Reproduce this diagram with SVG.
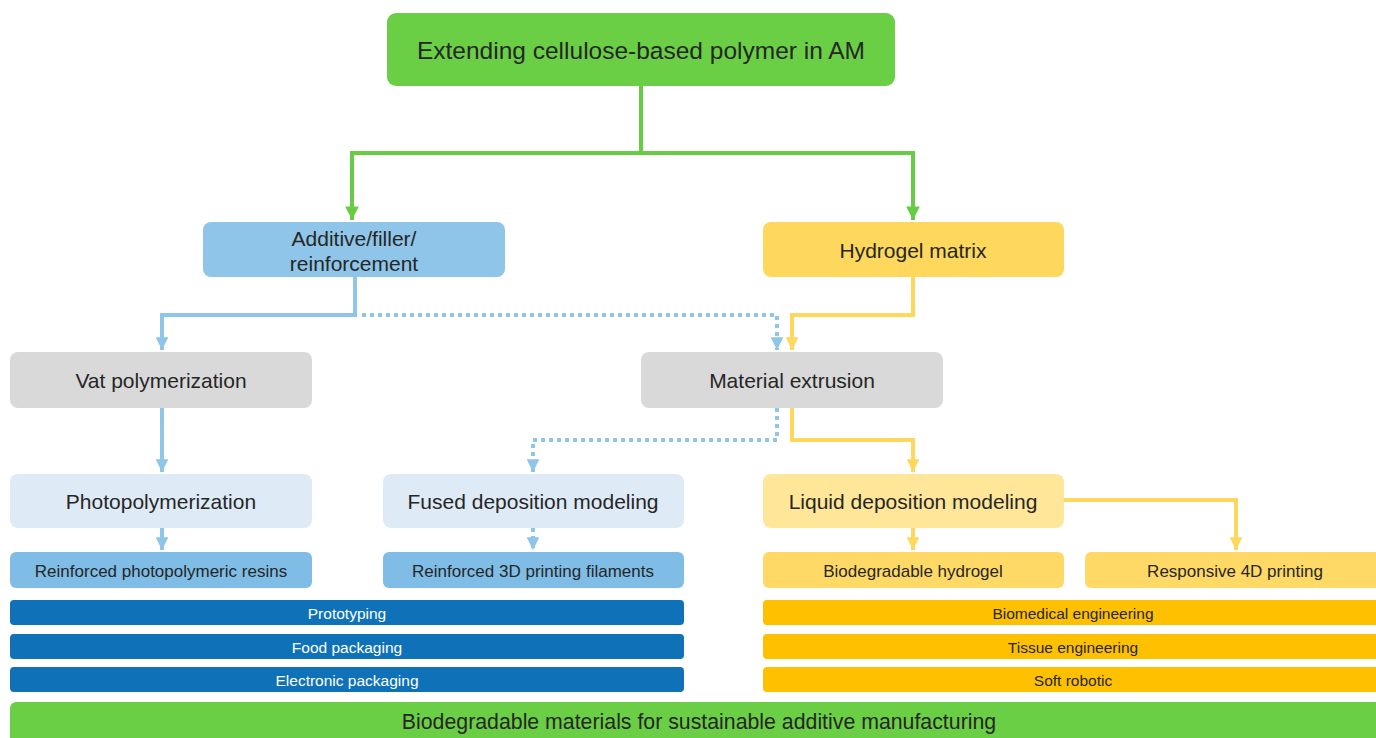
<svg xmlns="http://www.w3.org/2000/svg" width="1376" height="738" viewBox="0 0 1376 738">
<style>
text{font-family:"Liberation Sans","Open Sans",sans-serif;fill:#262626;text-anchor:middle;dominant-baseline:central}
.l{font-size:21px}.s{font-size:17px}.b{font-size:15.5px}
.w{fill:#ffffff}
.g{fill:none;stroke:#66cc44;stroke-width:4}
.bl{fill:none;stroke:#8ec5e8;stroke-width:4}
.bd{fill:none;stroke:#8ec5e8;stroke-width:4;stroke-dasharray:4 4}
.y{fill:none;stroke:#fdd85c;stroke-width:4}
</style>
<defs>
<marker id="ag" viewBox="0 0 10 10" refX="10" refY="5" markerWidth="3.4" markerHeight="3.4" orient="auto" markerUnits="strokeWidth"><path d="M0,0L10,5L0,10Z" fill="#66cc44"/></marker>
<marker id="ab" viewBox="0 0 10 10" refX="10" refY="5" markerWidth="3.2" markerHeight="3.2" orient="auto" markerUnits="strokeWidth"><path d="M0,0L10,5L0,10Z" fill="#8ec5e8"/></marker>
<marker id="ay" viewBox="0 0 10 10" refX="10" refY="5" markerWidth="3.2" markerHeight="3.2" orient="auto" markerUnits="strokeWidth"><path d="M0,0L10,5L0,10Z" fill="#fdd85c"/></marker>
</defs>
<rect width="1376" height="738" fill="#ffffff"/>
<g id="connectors">
<path class="g" d="M641,86V153H352V220" marker-end="url(#ag)"/>
<path class="g" d="M641,153H913V220" marker-end="url(#ag)"/>
<path class="bl" d="M355,277V315H162V350" marker-end="url(#ab)"/>
<path class="bd" d="M362,315H777V350" marker-end="url(#ab)"/>
<path class="y" d="M913,277V315H792V350" marker-end="url(#ay)"/>
<path class="bl" d="M162,408V472" marker-end="url(#ab)"/>
<path class="bd" d="M777,408V440H533V472" marker-end="url(#ab)"/>
<path class="y" d="M792,408V440H913V472" marker-end="url(#ay)"/>
<path class="bl" d="M162,528V550" marker-end="url(#ab)"/>
<path class="bd" d="M533,528V550" marker-end="url(#ab)"/>
<path class="y" d="M913,528V550" marker-end="url(#ay)"/>
<path class="y" d="M1064,500H1236V550" marker-end="url(#ay)"/>
</g>
<g id="n-top"><rect x="387" y="13" width="508" height="73" rx="9" fill="#6acf45"/><text x="641" y="50" style="font-size:24.5px" fill="#1a2e12">Extending cellulose-based polymer in AM</text></g>
<g id="n-additive"><rect x="203" y="222" width="302" height="55" rx="8" fill="#8ec5e8"/><text x="354" y="238" class="l">Additive/filler/</text><text x="354" y="263" class="l">reinforcement</text></g>
<g id="n-hydrogel"><rect x="763" y="222" width="301" height="55" rx="8" fill="#fdd85c"/><text x="913" y="250" class="l">Hydrogel matrix</text></g>
<g id="n-vat"><rect x="10" y="352" width="302" height="56" rx="8" fill="#d9d9d9"/><text x="161" y="380" class="l">Vat polymerization</text></g>
<g id="n-extrusion"><rect x="641" y="352" width="302" height="56" rx="8" fill="#d9d9d9"/><text x="792" y="380" class="l">Material extrusion</text></g>
<g id="n-photo"><rect x="10" y="474" width="302" height="54" rx="8" fill="#deebf7"/><text x="161" y="501" class="l">Photopolymerization</text></g>
<g id="n-fdm"><rect x="383" y="474" width="301" height="54" rx="8" fill="#deebf7"/><text x="533" y="501" class="l">Fused deposition modeling</text></g>
<g id="n-ldm"><rect x="763" y="474" width="301" height="54" rx="8" fill="#ffe699"/><text x="913" y="501" class="l">Liquid deposition modeling</text></g>
<g id="n-resins"><rect x="10" y="552" width="302" height="36" rx="6" fill="#7fbde6"/><text x="161" y="571" class="s">Reinforced photopolymeric resins</text></g>
<g id="n-filaments"><rect x="383" y="552" width="301" height="36" rx="6" fill="#7fbde6"/><text x="533" y="571" class="s">Reinforced 3D printing filaments</text></g>
<g id="n-biohydrogel"><rect x="763" y="552" width="301" height="36" rx="6" fill="#ffd966"/><text x="913" y="571" class="s">Biodegradable hydrogel</text></g>
<g id="n-4d"><rect x="1085" y="552" width="300" height="36" rx="6" fill="#ffd966"/><text x="1235" y="571" class="s">Responsive 4D printing</text></g>
<g id="n-proto"><rect x="10" y="600" width="674" height="25" rx="4" fill="#0f72b8"/><text x="347" y="613" class="b w">Prototyping</text></g>
<g id="n-food"><rect x="10" y="634" width="674" height="25" rx="4" fill="#0f72b8"/><text x="347" y="647" class="b w">Food packaging</text></g>
<g id="n-elec"><rect x="10" y="667" width="674" height="25" rx="4" fill="#0f72b8"/><text x="347" y="680" class="b w">Electronic packaging</text></g>
<g id="n-biomed"><rect x="763" y="600" width="620" height="25" rx="4" fill="#ffc000"/><text x="1073" y="613" class="b">Biomedical engineering</text></g>
<g id="n-tissue"><rect x="763" y="634" width="620" height="25" rx="4" fill="#ffc000"/><text x="1073" y="647" class="b">Tissue engineering</text></g>
<g id="n-soft"><rect x="763" y="667" width="620" height="25" rx="4" fill="#ffc000"/><text x="1073" y="680" class="b">Soft robotic</text></g>
<g id="n-bottom"><rect x="10" y="702" width="1380" height="50" rx="6" fill="#6acf45"/><text x="699" y="722" style="font-size:21.3px" fill="#1a2e12">Biodegradable materials for sustainable additive manufacturing</text></g>
</svg>
